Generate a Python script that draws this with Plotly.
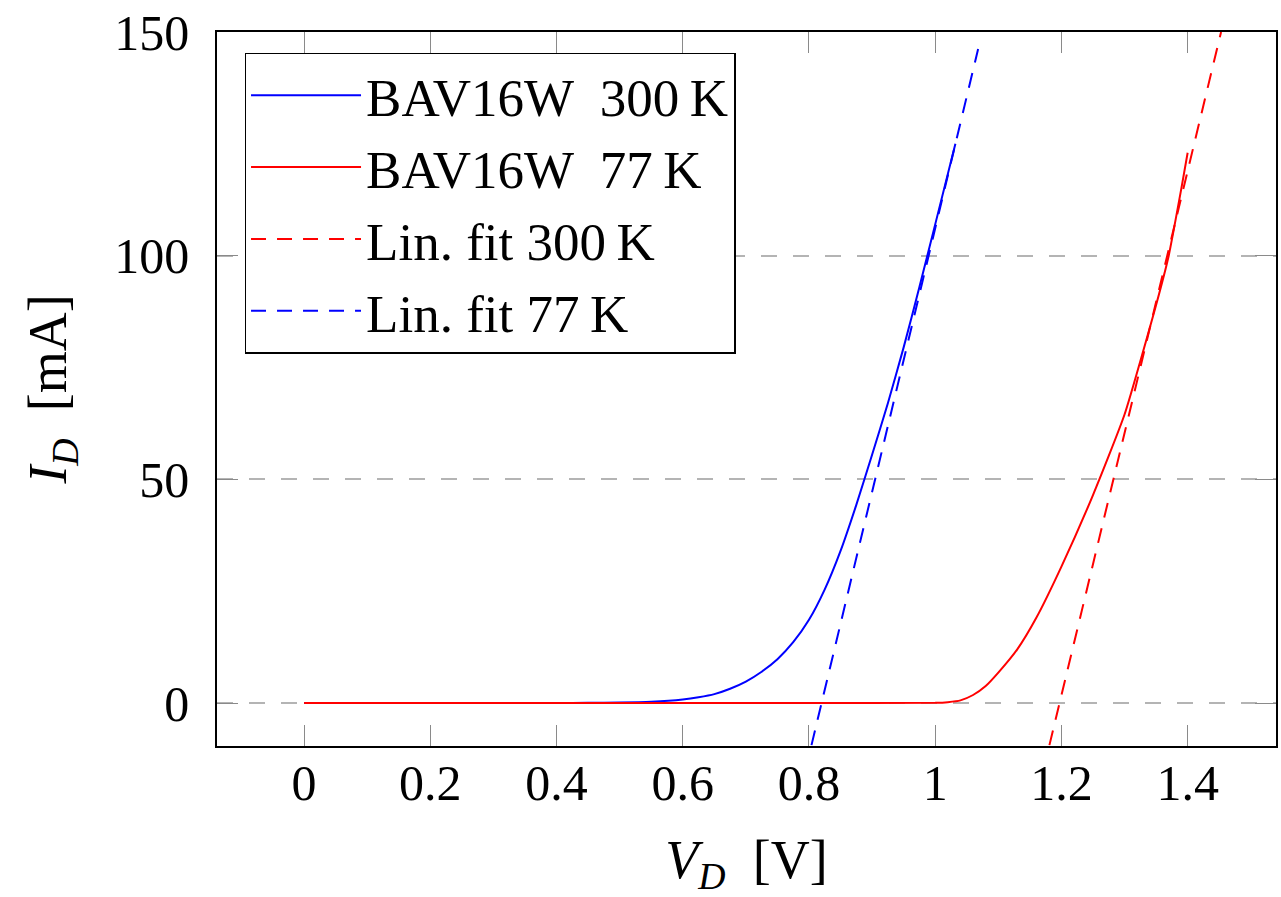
import plotly.graph_objects as go

# ---- data ----
v_300 = [0.0, 0.1, 0.2, 0.3, 0.4, 0.45, 0.5, 0.55, 0.6, 0.625, 0.65, 0.675, 0.7, 0.725, 0.75, 0.775,
         0.8, 0.825, 0.85, 0.875, 0.9, 0.925, 0.95, 0.975, 1.0, 1.032]
i_300 = [0.0, 0.0, 0.0, 0.0, 0.02, 0.05, 0.12, 0.3, 0.8, 1.3, 2.0, 3.2, 4.8, 7.0, 9.8, 13.6,
         18.6, 25.4, 34.0, 44.3, 55.5, 67.0, 79.5, 93.0, 107.0, 125.0]

v_77 = [0.0, 0.2, 0.4, 0.6, 0.8, 1.0, 1.02, 1.04, 1.06, 1.08, 1.1, 1.13, 1.16, 1.2, 1.25,
        1.3, 1.35, 1.37, 1.39, 1.40]
i_77 = [0.0, 0.0, 0.0, 0.0, 0.0, 0.05, 0.2, 0.6, 1.8, 3.8, 6.8, 12.0, 19.0, 30.5, 46.5,
        64.5, 89.0, 100.0, 115.0, 123.0]

fit_a_v = [1.181, 1.453]     # red dashed ("Lin. fit 300 K")
fit_a_i = [-9.4, 150.0]
fit_b_v = [0.804, 1.068]     # blue dashed ("Lin. fit 77 K")
fit_b_i = [-9.4, 146.2]

names = ["BAV16W  300\u2009K", "BAV16W  77\u2009K", "Lin. fit 300\u2009K", "Lin. fit 77\u2009K"]
x_ticks = [0, 0.2, 0.4, 0.6, 0.8, 1.0, 1.2, 1.4]
y_ticks = [0, 50, 100, 150]

BLUE = "#0000ff"
RED = "#ff0000"
FONT = "Liberation Serif"

fig = go.Figure()
fig.add_trace(go.Scatter(x=v_300, y=i_300, mode="lines", name=names[0],
                         line=dict(color=BLUE, width=2, shape="spline", smoothing=0.5)))
fig.add_trace(go.Scatter(x=v_77, y=i_77, mode="lines", name=names[1],
                         line=dict(color=RED, width=2, shape="spline", smoothing=0.5)))
fig.add_trace(go.Scatter(x=fit_a_v, y=fit_a_i, mode="lines", name=names[2],
                         line=dict(color=RED, width=2, dash="15px,11px")))
fig.add_trace(go.Scatter(x=fit_b_v, y=fit_b_i, mode="lines", name=names[3],
                         line=dict(color=BLUE, width=2, dash="15px,11px")))

fig.update_layout(
    width=1281, height=897,
    margin=dict(l=217, r=5, t=32, b=151, autoexpand=False),
    paper_bgcolor="white", plot_bgcolor="white",
    font=dict(family=FONT, size=50, color="black"),
    showlegend=True,
    legend=dict(x=0.026, y=0.971, xanchor="left", yanchor="top",
                bgcolor="white", bordercolor="black", borderwidth=1.5,
                font=dict(family=FONT, size=53, color="black"),
                itemwidth=110, tracegroupgap=0),
)

fig.update_xaxes(
    range=[-0.138, 1.540], tickvals=x_ticks,
    showline=True, linecolor="black", linewidth=1.5, mirror="allticks",
    ticks="inside", ticklen=21, tickcolor="#8a8a8a", tickwidth=1,
    showgrid=False, zeroline=False, ticklabelstandoff=-8,
    tickfont=dict(family=FONT, size=50),
    title=dict(text="<i>V</i><sub><i>D</i></sub>  [V]", font=dict(family=FONT, size=54), standoff=44),
)
fig.update_yaxes(
    range=[-9.6, 150], tickvals=y_ticks,
    showline=True, linecolor="black", linewidth=1.5, mirror="allticks",
    ticks="inside", ticklen=21, tickcolor="#8a8a8a", tickwidth=1,
    showgrid=True, gridcolor="#b4b4b4", gridwidth=1.5, griddash="16px,16px",
    zeroline=False, ticklabelstandoff=16,
    tickfont=dict(family=FONT, size=50),
    title=dict(text="<i>I</i><sub><i>D</i></sub>  [mA]", font=dict(family=FONT, size=54), standoff=30),
)

fig.write_html("out.html")
